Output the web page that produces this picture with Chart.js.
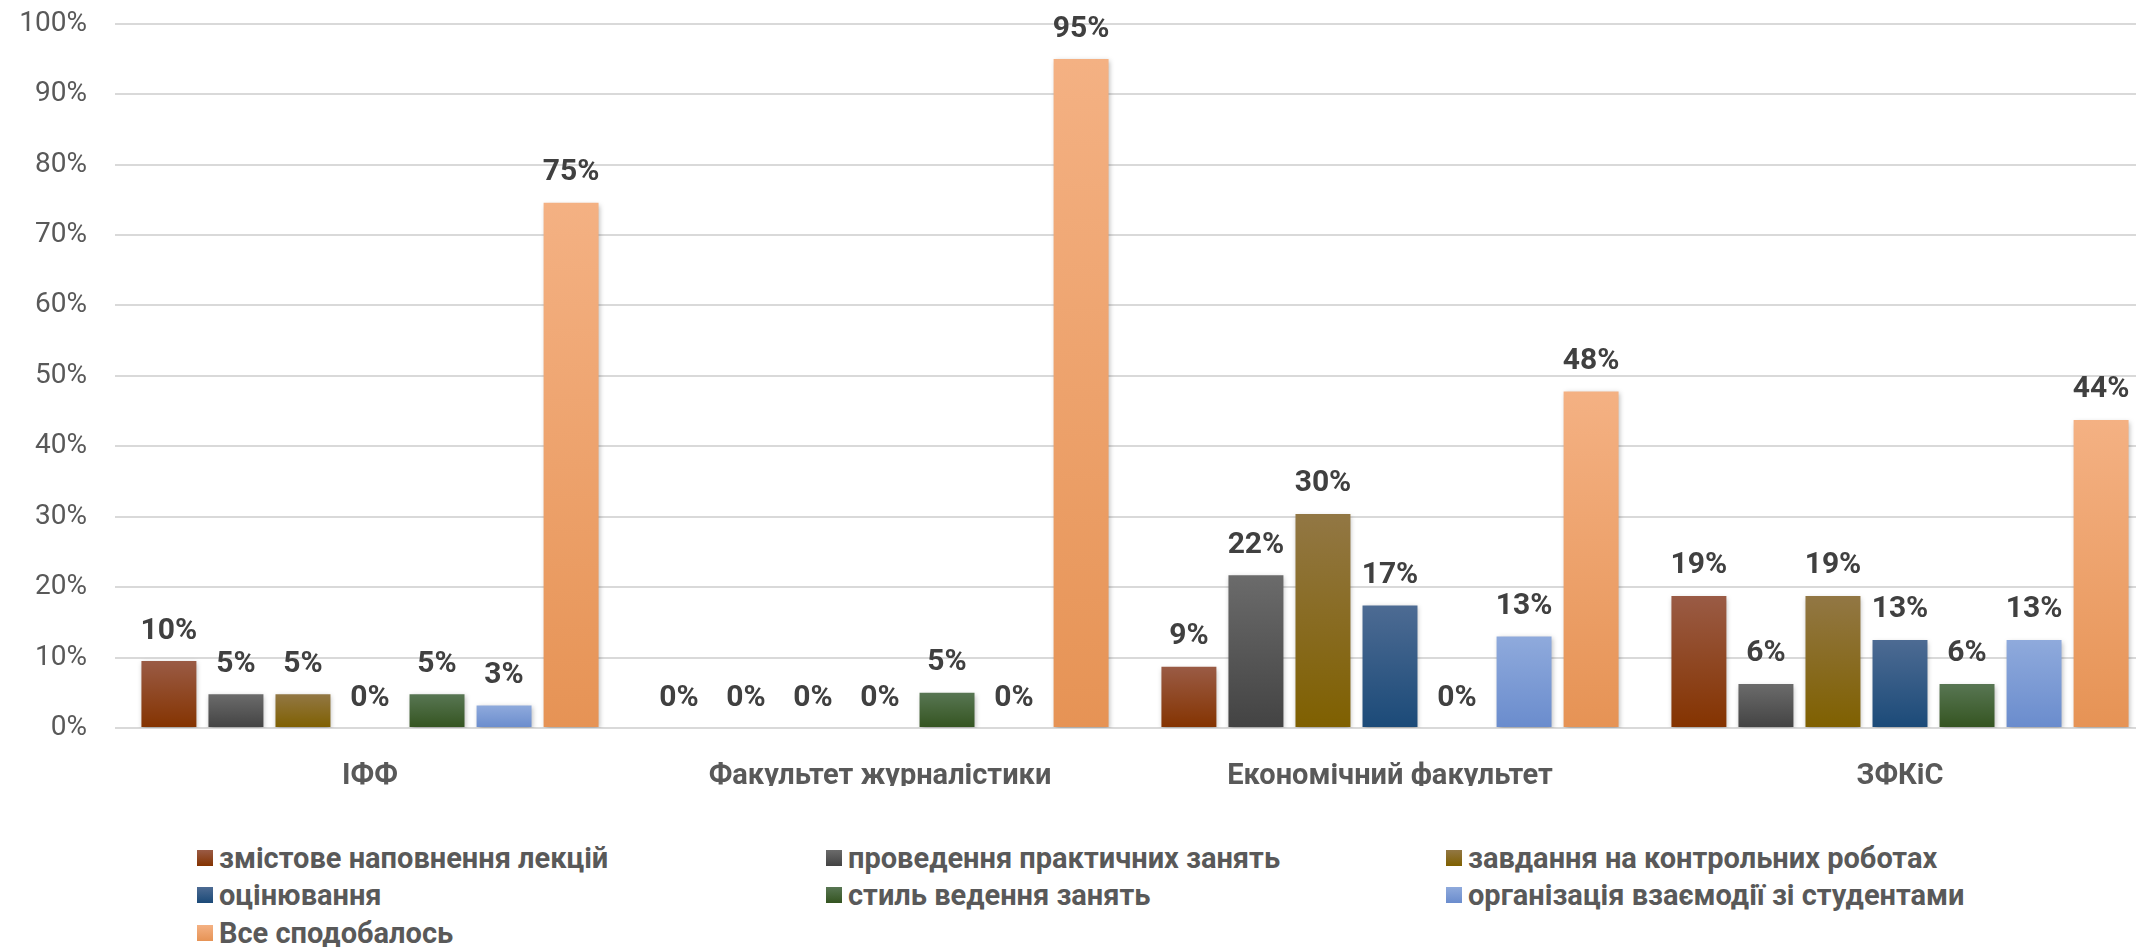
<!DOCTYPE html>
<html>
<head>
<meta charset="utf-8">
<script src="https://cdn.jsdelivr.net/npm/chart.js@4"></script>
<style>
  html, body { margin: 0; padding: 0; background: #fff; overflow: hidden; }
  #wrap { position: relative; width: 2136px; height: 947px; overflow: hidden; }
  /* the y tick padding is also added above the plot, so pull the canvas up */
  #chart { position: absolute; left: 0; top: -21px; }
  .lg { position: absolute; display: flex; align-items: center; font: bold 29px Roboto, sans-serif; color: #595959; white-space: nowrap; transform: translateY(-50%); }
  .lg span.box { display: inline-block; width: 16px; height: 16px; margin-right: 6px; }
</style>
</head>
<body>
<div id="wrap">
  <canvas id="chart" width="2155" height="807"></canvas>
  <div id="legend"></div>
</div>
<script>
// categories (faculties)
const categories = ['ІФФ', 'Факультет журналістики', 'Економічний факультет', 'ЗФКіС'];

// series values, one per faculty
const zmistove = [0.095, 0, 0.087, 0.1875];
const provedennya = [0.048, 0, 0.217, 0.0625];
const zavdannya = [0.048, 0, 0.304, 0.1875];
const otsinyuvannya = [0, 0, 0.174, 0.125];
const styl = [0.048, 0.05, 0, 0.0625];
const organizatsiya = [0.032, 0, 0.13, 0.125];
const vseSpodobalos = [0.746, 0.95, 0.478, 0.4375];

const seriesNames = [
    'змістове наповнення лекцій',
    'проведення практичних занять',
    'завдання на контрольних роботах',
    'оцінювання',
    'стиль ведення занять',
    'організація взаємодії зі студентами',
    'Все сподобалось'
];
const seriesValues = [zmistove, provedennya, zavdannya, otsinyuvannya, styl, organizatsiya, vseSpodobalos];

// top / bottom gradient colours of every series
const topColors = ['#9a5b45', '#6b6b6b', '#927744', '#4d6b93', '#587653', '#8faadc', '#f4b183'];
const bottomColors = ['#843300', '#434343', '#7f6000', '#1b4a78', '#345420', '#6a8ccd', '#e69355'];

const yTicks = [0, 0.1, 0.2, 0.3, 0.4, 0.5, 0.6, 0.7, 0.8, 0.9, 1];

function barGradient(i) {
    return function (ctx) {
        if (ctx.type !== 'data') return topColors[i];
        const chart = ctx.chart;
        if (!chart.chartArea) return topColors[i];
        const y = chart.scales.y;
        const top = y.getPixelForValue(ctx.raw);
        const base = y.getPixelForValue(0);
        if (base - top < 1) return bottomColors[i];
        const g = chart.ctx.createLinearGradient(0, top, 0, base);
        g.addColorStop(0, topColors[i]);
        g.addColorStop(1, bottomColors[i]);
        return g;
    };
}

const datasets = seriesNames.map(function (name, i) {
    return {
        label: name,
        data: seriesValues[i],
        backgroundColor: barGradient(i),
        borderWidth: 0,
        categoryPercentage: 0.92,
        barPercentage: 0.82
    };
});

// soft shadow under the bars, like the office chart
const shadowPlugin = {
    id: 'barShadow',
    beforeDatasetsDraw(chart) {
        const c = chart.ctx;
        c.save();
        c.shadowColor = 'rgba(0,0,0,0.28)';
        c.shadowBlur = 5;
        c.shadowOffsetX = 1;
        c.shadowOffsetY = 2;
    },
    afterDatasetsDraw(chart) {
        chart.ctx.restore();
    }
};

// percentage labels above every bar
const valueLabels = {
    id: 'valueLabels',
    afterDatasetsDraw(chart) {
        const c = chart.ctx;
        c.save();
        c.font = 'bold 30px Roboto, sans-serif';
        c.fillStyle = '#404040';
        c.textAlign = 'center';
        c.textBaseline = 'middle';
        chart.data.datasets.forEach(function (ds, i) {
            const meta = chart.getDatasetMeta(i);
            meta.data.forEach(function (bar, j) {
                c.fillText(Math.round(ds.data[j] * 100) + '%', bar.x, bar.y - 30);
            });
        });
        c.restore();
    }
};

const chart = new Chart(document.getElementById('chart').getContext('2d'), {
    type: 'bar',
    data: { labels: categories, datasets: datasets },
    options: {
        responsive: false,
        animation: false,
        devicePixelRatio: 1,
        layout: { padding: 0 },
        plugins: {
            legend: { display: false },
            tooltip: { enabled: false }
        },
        scales: {
            x: {
                grid: { display: false },
                border: { display: false },
                ticks: { font: { family: 'Roboto', size: 29, weight: 'bold' }, color: '#595959', padding: 23 },
                afterFit: function (s) { s.height = 58; }
            },
            y: {
                min: 0,
                max: 1,
                afterBuildTicks: function (s) { s.ticks = yTicks.map(function (v) { return { value: v }; }); },
                grid: { color: '#d9d9d9', lineWidth: 2, drawTicks: false },
                border: { display: false },
                ticks: {
                    font: { family: 'Roboto', size: 28 },
                    color: '#595959',
                    padding: 28,
                    callback: function (v) { return Math.round(v * 100) + '%'; }
                },
                afterFit: function (s) { s.width = 115; }
            }
        }
    },
    plugins: [shadowPlugin, valueLabels]
});

// legend in three columns, built from the datasets
const legendLeft = [197, 826, 1446];
const legendTop = [858, 895, 933];
const legendBox = document.getElementById('legend');
chart.data.datasets.forEach(function (ds, i) {
    const item = document.createElement('div');
    item.className = 'lg';
    item.style.left = legendLeft[i % 3] + 'px';
    item.style.top = legendTop[Math.floor(i / 3)] + 'px';
    const box = document.createElement('span');
    box.className = 'box';
    box.style.background = 'linear-gradient(' + topColors[i] + ',' + bottomColors[i] + ')';
    item.appendChild(box);
    item.appendChild(document.createTextNode(ds.label));
    legendBox.appendChild(item);
});
</script>
</body>
</html>
